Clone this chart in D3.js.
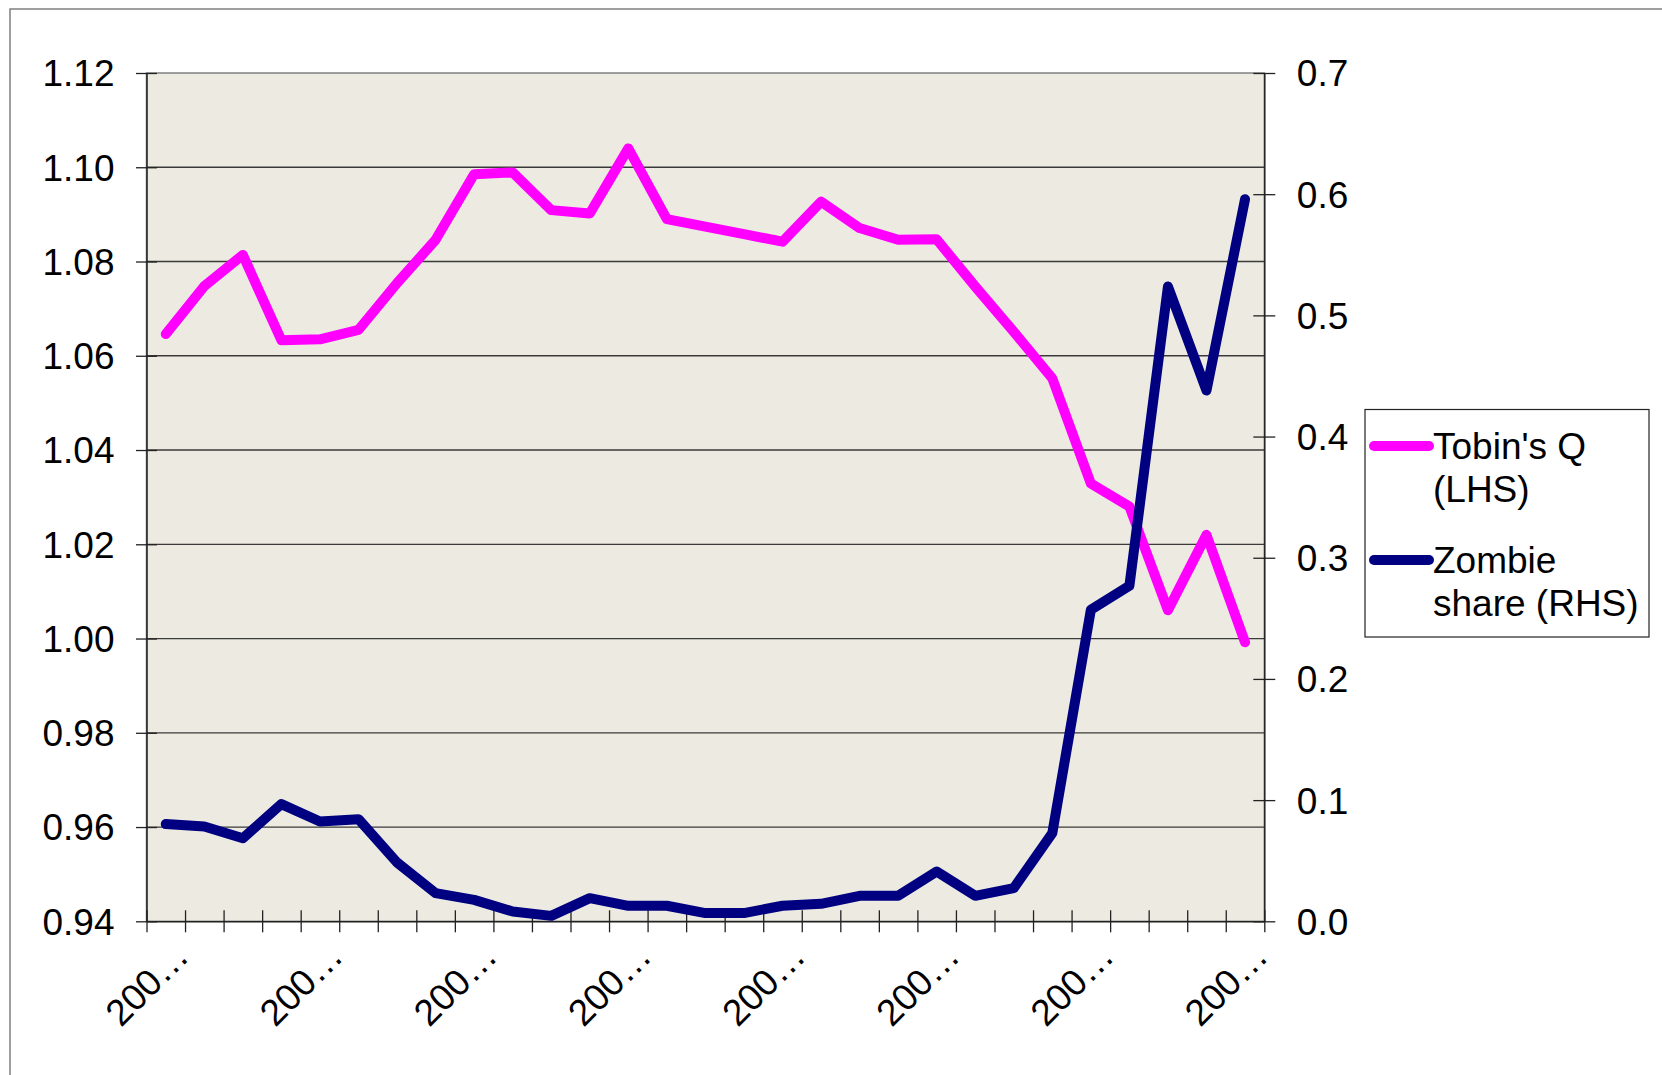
<!DOCTYPE html>
<html>
<head>
<meta charset="utf-8">
<script src="https://cdn.jsdelivr.net/npm/d3@7"></script>
<style>
  html, body { margin: 0; padding: 0; background: #fff; }
  svg { display: block; font-family: "Liberation Sans", Arial, sans-serif; }
</style>
</head>
<body>
<svg id="chart" width="1662" height="1075"></svg>
<script>
// ---- data ----
const categoryLabels = [
  "200…", "", "", "", "200…", "", "", "", "200…", "", "", "", "200…", "", "", "",
  "200…", "", "", "", "200…", "", "", "", "200…", "", "", "", "200…"
];
const tobinsQ = [
  1.0646, 1.0748, 1.0814, 1.0633, 1.0635, 1.0655, 1.0754, 1.0846, 1.0985, 1.0989,
  1.0909, 1.0902, 1.1040, 1.0890, 1.0874, 1.0858, 1.0842, 1.0927, 1.0871, 1.0846,
  1.0847, 1.0747, 1.0651, 1.0552, 1.0329, 1.0280, 1.0060, 1.0220, 0.9992
];
const zombieShare = [
  0.0802, 0.0782, 0.0686, 0.0967, 0.0823, 0.0843, 0.0485, 0.0233, 0.0177, 0.0081,
  0.0045, 0.0191, 0.0128, 0.0128, 0.0068, 0.0068, 0.0128, 0.0144, 0.0210, 0.0210,
  0.0411, 0.0210, 0.0274, 0.0728, 0.2570, 0.2768, 0.5238, 0.4380, 0.5959
];
const leftTicks = [0.94, 0.96, 0.98, 1.00, 1.02, 1.04, 1.06, 1.08, 1.10, 1.12];
const rightTicks = [0.0, 0.1, 0.2, 0.3, 0.4, 0.5, 0.6, 0.7];
const seriesNames = [["Tobin's Q", "(LHS)"], ["Zombie", "share (RHS)"]];
const seriesColors = ["#FF00FF", "#000080"];

// ---- layout ----
const svg = d3.select("#chart");
const plot = { left: 146.5, right: 1264.3, top: 73, bottom: 921.3 };
const fontSize = 37;

const idx = d3.range(categoryLabels.length);
const x = d3.scaleBand().domain(idx).range([plot.left, plot.right]).paddingInner(0).paddingOuter(0);
const xEdge = d3.scaleLinear().domain([0, idx.length]).range([plot.left, plot.right]);
const yL = d3.scaleLinear().domain([0.94, 1.12]).range([plot.bottom, plot.top]);
const yR = d3.scaleLinear().domain([0, 0.7]).range([plot.bottom, plot.top]);

// outer frame
svg.append("rect")
  .attr("x", 10).attr("y", 9).attr("width", 1700).attr("height", 1200)
  .attr("fill", "#fff").attr("stroke", "#808080").attr("stroke-width", 1.5);

// plot background
svg.append("rect")
  .attr("x", plot.left).attr("y", plot.top)
  .attr("width", plot.right - plot.left).attr("height", plot.bottom - plot.top)
  .attr("fill", "#EDEBE1").attr("stroke", "#808080").attr("stroke-width", 1.5);

// gridlines (left axis)
svg.append("g").selectAll("line")
  .data(leftTicks.filter(t => t > 0.941 && t < 1.119))
  .join("line")
  .attr("x1", plot.left).attr("x2", plot.right)
  .attr("y1", d => yL(d)).attr("y2", d => yL(d))
  .attr("stroke", "#3a3a3a").attr("stroke-width", 1.3);

// left axis
const gL = svg.append("g").attr("transform", `translate(${plot.left},0)`)
  .call(d3.axisLeft(yL).tickValues(leftTicks).tickFormat(d3.format(".2f")).tickSizeInner(10.5).tickSizeOuter(0));
gL.select(".domain").attr("stroke", "#222").attr("stroke-width", 1.5);
gL.selectAll(".tick line").attr("x2", 10.5).attr("x1", -10.5).attr("stroke", "#222").attr("stroke-width", 1.3);
gL.selectAll(".tick text").attr("x", -32).attr("dy", "0.35em")
  .attr("font-size", fontSize).attr("fill", "#000").attr("font-family", "Liberation Sans, Arial, sans-serif");

// right axis
const gR = svg.append("g").attr("transform", `translate(${plot.right},0)`)
  .call(d3.axisRight(yR).tickValues(rightTicks).tickFormat(d3.format(".1f")).tickSizeInner(11).tickSizeOuter(0));
gR.select(".domain").attr("stroke", "#222").attr("stroke-width", 1.5);
gR.selectAll(".tick line").attr("x1", -11).attr("x2", 11).attr("stroke", "#222").attr("stroke-width", 1.3);
gR.selectAll(".tick text").attr("x", 32.5).attr("dy", "0.35em")
  .attr("font-size", fontSize).attr("fill", "#000").attr("font-family", "Liberation Sans, Arial, sans-serif");

// bottom axis (ticks at category boundaries)
const gB = svg.append("g").attr("transform", `translate(0,${plot.bottom})`)
  .call(d3.axisBottom(xEdge).tickValues(d3.range(idx.length + 1)).tickFormat("").tickSizeInner(11).tickSizeOuter(0));
gB.select(".domain").attr("stroke", "#222").attr("stroke-width", 1.5);
gB.selectAll(".tick line").attr("y1", -11).attr("y2", 11).attr("stroke", "#222").attr("stroke-width", 1.3);

// category labels
svg.append("g").selectAll("text")
  .data(idx.filter(i => categoryLabels[i] !== ""))
  .join("text")
  .attr("transform", i => `translate(${x(i) + x.bandwidth() / 2 + 25},${plot.bottom + 37}) rotate(-45)`)
  .attr("text-anchor", "end")
  .attr("font-size", fontSize)
  .attr("fill", "#000")
  .text(i => categoryLabels[i]);

// lines
const cx = i => x(i) + x.bandwidth() / 2;
const lineL = d3.line().x((d, i) => cx(i)).y(d => yL(d));
const lineR = d3.line().x((d, i) => cx(i)).y(d => yR(d));

svg.append("path").datum(tobinsQ)
  .attr("d", lineL).attr("fill", "none")
  .attr("stroke", seriesColors[0]).attr("stroke-width", 10)
  .attr("stroke-linejoin", "round").attr("stroke-linecap", "round");

svg.append("path").datum(zombieShare)
  .attr("d", lineR).attr("fill", "none")
  .attr("stroke", seriesColors[1]).attr("stroke-width", 10)
  .attr("stroke-linejoin", "round").attr("stroke-linecap", "round");

// legend
const legend = svg.append("g");
legend.append("rect")
  .attr("x", 1365).attr("y", 409.5).attr("width", 284).attr("height", 227.5)
  .attr("fill", "#fff").attr("stroke", "#222").attr("stroke-width", 1.2);

const legendRows = [446, 560];
seriesNames.forEach((names, k) => {
  legend.append("line")
    .attr("x1", 1374).attr("x2", 1429)
    .attr("y1", legendRows[k]).attr("y2", legendRows[k])
    .attr("stroke", seriesColors[k]).attr("stroke-width", 10).attr("stroke-linecap", "round");
  names.forEach((t, j) => {
    legend.append("text")
      .attr("x", 1433).attr("y", legendRows[k] + 13 + j * 43)
      .attr("font-size", fontSize).attr("fill", "#000")
      .text(t);
  });
});
</script>
</body>
</html>
